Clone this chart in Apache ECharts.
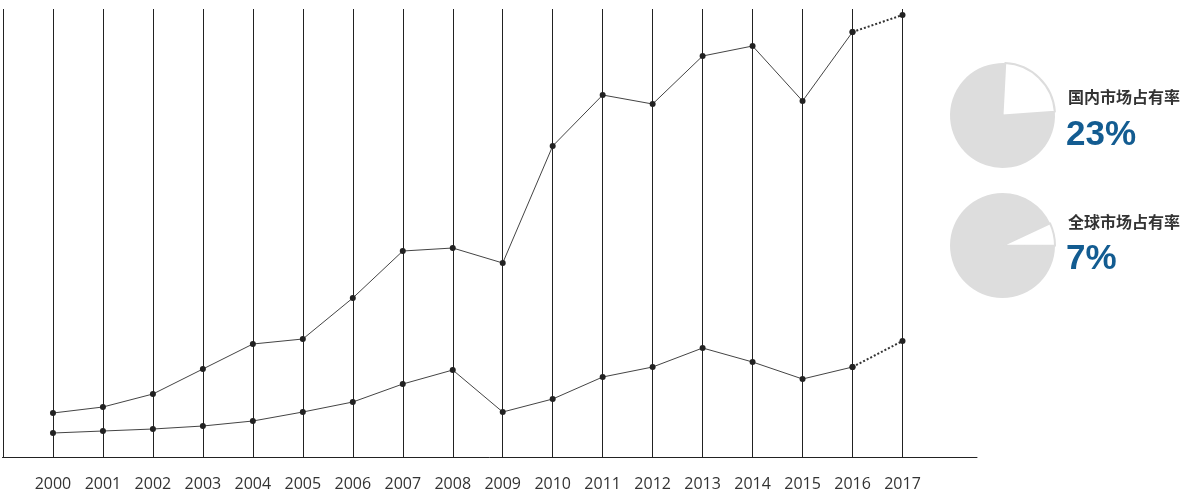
<!DOCTYPE html>
<html><head><meta charset="utf-8">
<script src="https://cdn.jsdelivr.net/npm/echarts@6/dist/echarts.min.js"></script>
<style>html,body{margin:0;padding:0;background:#fff}#c{width:1200px;height:501px}</style>
</head><body><div id="c"></div>
<script>
// ---- data ----
const years = [2000,2001,2002,2003,2004,2005,2006,2007,2008,2009,2010,2011,2012,2013,2014,2015,2016,2017];
const upperSeries = [44,50,63,88,113,118,159,206,209,194,311,362,353,401,411,356,425,442];
const lowerSeries = [24,26,28,31,36,45,55,73,87,45,58,80,90,109,95,78,90,116];
const forecastFrom = 2016; // segment after this year is drawn dotted
const shareTitles = ['国内市场占有率', '全球市场占有率'];
const shareValues = [23, 7];

const chart = echarts.init(document.getElementById('c'), null, {renderer: 'canvas'});

function solidPart(vals) {
  return years.map((y, i) => [y, vals[i]]).filter(p => p[0] <= forecastFrom);
}
function dottedPart(vals) {
  return years.map((y, i) => [y, vals[i]]).filter(p => p[0] >= forecastFrom);
}
const lineCol = '#444';
const dotCol = '#222';
function lineSeries(data, dotted) {
  return {
    type: 'line', xAxisIndex: 0, yAxisIndex: 0, data: data,
    symbol: 'circle', symbolSize: 6, showSymbol: true,
    itemStyle: {color: dotCol},
    lineStyle: dotted ? {color: '#333', width: 2, type: [2, 2]} : {color: lineCol, width: 1},
    silent: true, animation: false, z: 3
  };
}
function pie(center, value, startAngle) {
  return {
    type: 'pie', center: center, radius: 52.5, startAngle: startAngle, clockwise: true,
    silent: true, animation: false, label: {show: false}, labelLine: {show: false},
    data: [
      {value: value, itemStyle: {color: '#ffffff', borderColor: '#dddddd', borderWidth: 2}},
      {value: 100 - value, itemStyle: {color: '#dddddd', borderWidth: 0}}
    ]
  };
}
const titleFont = 'Noto Sans CJK SC';
const tStyle = {fontFamily: titleFont, fontSize: 16, fontWeight: 'bold', color: '#333', lineHeight: 16};
const pStyle = {fontFamily: 'Liberation Sans', fontSize: 35, fontWeight: 'bold', color: '#135c91', lineHeight: 35};
chart.setOption({
  backgroundColor: '#fff',
  animation: false,
  title: [
    {text: shareTitles[0], left: 1068, top: 89, padding: 0, textStyle: tStyle},
    {text: shareValues[0] + '%', left: 1066, top: 118, padding: 0, textStyle: pStyle},
    {text: shareTitles[1], left: 1068, top: 214, padding: 0, textStyle: tStyle},
    {text: shareValues[1] + '%', left: 1066, top: 242, padding: 0, textStyle: pStyle}
  ],
  grid: [
    {left: 2.5, right: 297.5, top: 9, bottom: 44, containLabel: false},
    {left: 2.5, right: 223, top: 9, bottom: 44, containLabel: false}
  ],
  xAxis: [
    {gridIndex: 0, type: 'value', min: 1999, max: 2017, interval: 1,
     axisLine: {show: false}, axisTick: {show: false},
     splitLine: {show: true, lineStyle: {color: '#222', width: 1}},
     axisLabel: {margin: 19, fontSize: 16, color: '#333', fontFamily: 'Open Sans',
       formatter: v => (v < years[0] ? '' : String(v))}},
    {gridIndex: 1, type: 'value', min: 0, max: 1,
     axisLine: {show: true, lineStyle: {color: '#222', width: 1}},
     axisTick: {show: false}, axisLabel: {show: false}, splitLine: {show: false}}
  ],
  yAxis: [
    {gridIndex: 0, type: 'value', min: 0, max: 448, show: true,
     axisLine: {show: false}, axisTick: {show: false}, axisLabel: {show: false}, splitLine: {show: false}},
    {gridIndex: 1, type: 'value', min: 0, max: 1, show: false}
  ],
  series: [
    lineSeries(solidPart(upperSeries), false),
    lineSeries(dottedPart(upperSeries), true),
    lineSeries(solidPart(lowerSeries), false),
    lineSeries(dottedPart(lowerSeries), true),
    pie([1002.5, 115.5], shareValues[0], 87),
    pie([1002.5, 245.5], shareValues[1], 25)
  ]
});
</script>
</body></html>
